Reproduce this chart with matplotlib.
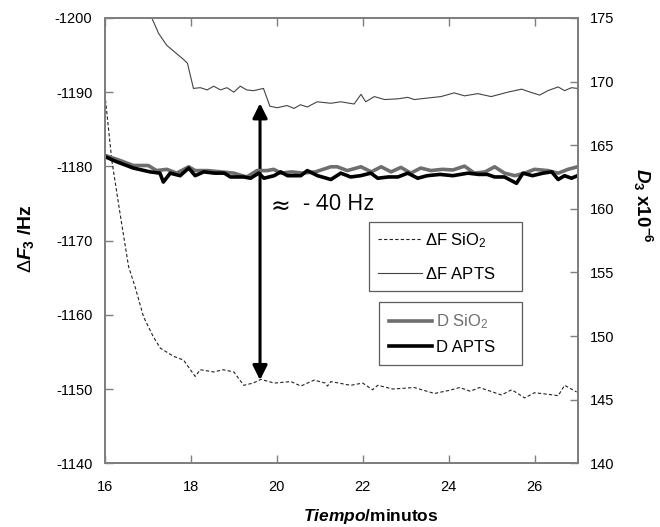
import matplotlib.pyplot as plt
import matplotlib

matplotlib.rcParams['font.family'] = ['Liberation Sans', 'DejaVu Sans']
matplotlib.rcParams['axes.unicode_minus'] = False
matplotlib.rcParams['mathtext.fontset'] = 'custom'
matplotlib.rcParams['mathtext.rm'] = 'Liberation Sans'
matplotlib.rcParams['mathtext.it'] = 'Liberation Sans:italic:bold'
matplotlib.rcParams['mathtext.bf'] = 'Liberation Sans:bold'

# dF APTS (left axis, Hz)
t_fapts = [17.0, 17.09, 17.25, 17.44, 17.83, 17.92, 18.06, 18.22, 18.38, 18.53, 18.69,
           18.84, 19.0, 19.15, 19.3, 19.46, 19.69, 19.84, 20.01, 20.24, 20.4, 20.55,
           20.71, 20.94, 21.26, 21.49, 21.8, 21.96, 22.07, 22.27, 22.51, 22.82, 23.05,
           23.2, 23.5, 23.82, 24.13, 24.37, 24.68, 24.99, 25.38, 25.7, 25.9, 26.12,
           26.31, 26.55, 26.7, 26.86, 27.0]
f_apts = [-1201.0, -1200.0, -1197.9, -1196.3, -1194.4, -1193.9, -1190.5, -1190.6, -1190.3,
          -1190.8, -1190.3, -1190.6, -1190.0, -1190.8, -1190.3, -1190.2, -1190.5, -1188.1,
          -1187.9, -1188.2, -1187.8, -1188.3, -1188.0, -1188.7, -1188.5, -1188.7, -1188.4,
          -1189.7, -1188.7, -1189.4, -1189.0, -1189.1, -1189.3, -1189.0, -1189.2, -1189.4,
          -1189.9, -1189.5, -1189.8, -1189.4, -1190.0, -1190.4, -1190.0, -1189.6, -1190.2,
          -1190.7, -1190.2, -1190.6, -1190.5]

# dF SiO2 (left axis, Hz)
t_fsio2 = [16.0, 16.16, 16.35, 16.55, 16.7, 16.9, 17.13, 17.29, 17.6, 17.83, 18.1, 18.22,
           18.53, 18.75, 19.0, 19.23, 19.45, 19.63, 19.94, 20.33, 20.56, 20.87, 21.13, 21.18,
           21.26, 21.72, 22.0, 22.23, 22.35, 22.7, 23.2, 23.67, 24.0, 24.26, 24.5, 24.72,
           25.23, 25.47, 25.77, 26.0, 26.3, 26.55, 26.7, 26.98]
f_sio2 = [-1189.7, -1180.8, -1173.7, -1166.5, -1163.8, -1159.7, -1157.0, -1155.5, -1154.4,
          -1153.9, -1151.7, -1152.6, -1152.3, -1152.6, -1152.3, -1150.5, -1150.8, -1151.3,
          -1150.8, -1151.0, -1150.4, -1151.2, -1150.8, -1150.4, -1151.0, -1150.5, -1150.8,
          -1149.9, -1150.5, -1150.0, -1150.2, -1149.4, -1149.8, -1150.2, -1149.7, -1150.2,
          -1149.2, -1149.9, -1148.8, -1149.5, -1149.3, -1149.1, -1150.5, -1149.6]

# D SiO2 (right axis, x1e-6)
t_dsio2 = [16.0, 16.35, 16.66, 17.01, 17.2, 17.44, 17.67, 17.95, 18.1, 18.4, 18.7, 19.0,
           19.3, 19.54, 19.77, 19.93, 20.1, 20.35, 20.6, 20.9, 21.26, 21.41, 21.64, 21.96,
           22.2, 22.43, 22.66, 22.89, 23.12, 23.35, 23.59, 23.85, 24.1, 24.37, 24.6, 24.85,
           25.07, 25.3, 25.54, 25.77, 26.0, 26.31, 26.55, 26.78, 27.0]
d_sio2 = [164.2, 163.8, 163.4, 163.4, 163.0, 163.1, 162.8, 163.3, 163.0, 163.0, 162.9, 162.8,
          162.5, 163.0, 163.0, 163.1, 162.8, 162.9, 162.8, 162.9, 163.3, 163.3, 163.0, 163.3,
          162.9, 163.3, 162.9, 163.25, 162.8, 163.2, 163.0, 163.1, 163.05, 163.35, 162.8,
          162.9, 163.3, 162.8, 162.6, 162.8, 163.1, 163.0, 162.8, 163.1, 163.3]

# D APTS (right axis, x1e-6)
t_dapts = [16.0, 16.27, 16.66, 17.05, 17.28, 17.36, 17.52, 17.75, 17.95, 18.1, 18.3, 18.55,
           18.78, 18.92, 19.23, 19.39, 19.58, 19.7, 19.94, 20.09, 20.25, 20.56, 20.71, 20.95,
           21.26, 21.49, 21.72, 21.95, 22.19, 22.35, 22.6, 22.82, 23.05, 23.28, 23.5, 23.8,
           24.1, 24.45, 24.7, 24.9, 25.07, 25.3, 25.58, 25.73, 25.95, 26.2, 26.4, 26.55,
           26.7, 26.86, 27.0]
d_apts = [164.1, 163.7, 163.2, 162.9, 162.8, 162.1, 162.8, 162.6, 163.2, 162.6, 162.9, 162.8,
          162.8, 162.5, 162.5, 162.4, 162.8, 162.4, 162.6, 162.9, 162.6, 162.6, 163.0, 162.6,
          162.3, 162.8, 162.5, 162.6, 162.8, 162.4, 162.5, 162.5, 162.8, 162.4, 162.6, 162.7,
          162.6, 162.8, 162.7, 162.7, 162.5, 162.5, 162.0, 162.8, 162.6, 162.8, 162.9, 162.3,
          162.6, 162.4, 162.6]

axis_grey = '#7f7f7f'

fig = plt.figure(figsize=(6.6, 5.27), dpi=100)
ax = fig.add_axes([0.159, 0.121, 0.716, 0.845])
ax2 = ax.twinx()

l1, = ax.plot(t_fsio2, f_sio2, color='#222222', lw=0.8, ls=(0, (3, 2)), label=r'$\Delta$F SiO$_2$')
l2, = ax.plot(t_fapts, f_apts, color='#444444', lw=0.8, label=r'$\Delta$F APTS')
l3, = ax2.plot(t_dsio2, d_sio2, color='#6e6e6e', lw=2.6, label='D SiO$_2$')
l4, = ax2.plot(t_dapts, d_apts, color='black', lw=2.6, label='D APTS')

ax.set_xlim(16, 27)
ax.set_ylim(-1140, -1200)
ax.set_yticks(range(-1200, -1139, 10))
ax.set_xticks(range(16, 27, 2))
ax2.set_ylim(140, 175)
ax2.set_yticks(range(140, 176, 5))

for a in (ax, ax2):
    for s in a.spines.values():
        s.set_color(axis_grey)
        s.set_linewidth(1.4)
ax.tick_params(axis='x', direction='in', length=6, width=1, color=axis_grey,
               top=True, pad=12, labelsize=10.5)
ax.tick_params(axis='y', direction='in', length=6, width=1, color=axis_grey,
               pad=9, labelsize=10.5)
ax2.tick_params(axis='y', direction='in', length=6, width=1, color=axis_grey,
                pad=9, labelsize=10.5)

# double arrow: ~ -40 Hz shift
ax.annotate('', xy=(19.61, -1188.5), xytext=(19.61, -1151.2),
            arrowprops=dict(arrowstyle='<|-|>', color='black', lw=2.2,
                            mutation_scale=22, shrinkA=0, shrinkB=0))
ax.text(19.86, -1174.6, u'\u2248', fontsize=17, family='DejaVu Sans',
        ha='left', va='center')
ax.text(20.6, -1174.8, '- 40 Hz', fontsize=16, family='Open Sans',
        ha='left', va='center')

leg1 = ax2.legend(handles=[l1, l2], loc='upper left', bbox_to_anchor=(0.559, 0.378, 0.324, 0.1635),
                  mode='expand', frameon=True, fancybox=False, edgecolor='#333333', fontsize=12,
                  handlelength=2.6, borderpad=0.55, labelspacing=0.95, handletextpad=0.2,
                  borderaxespad=0)
leg1.get_frame().set_linewidth(0.9)
ax2.add_artist(leg1)
leg2 = ax2.legend(handles=[l3, l4], loc='upper left', bbox_to_anchor=(0.580, 0.219, 0.303, 0.142),
                  mode='expand', frameon=True, fancybox=False, edgecolor='#333333', fontsize=12,
                  handlelength=2.6, borderpad=0.6, labelspacing=0.5, handletextpad=0.2,
                  borderaxespad=0)
leg2.get_frame().set_linewidth(0.9)
leg2.get_texts()[0].set_color('#6e6e6e')

fig.text(0.039, 0.548, r'$\mathit{\Delta F}_{\mathbf{3}}$ /Hz', rotation=90,
         ha='center', va='center', fontsize=14, fontweight='bold')
fig.text(0.973, 0.61, r'$\mathit{D}_{\mathbf{3}}$ x10$^{\mathbf{-6}}$', rotation=-90,
         ha='center', va='center', fontsize=13.5, fontweight='bold')
fig.text(0.562, 0.019, r'$\mathit{Tiempo}$/minutos', ha='center', va='center',
         fontsize=12.5, fontweight='bold')

fig.savefig('out.png', dpi=100)
